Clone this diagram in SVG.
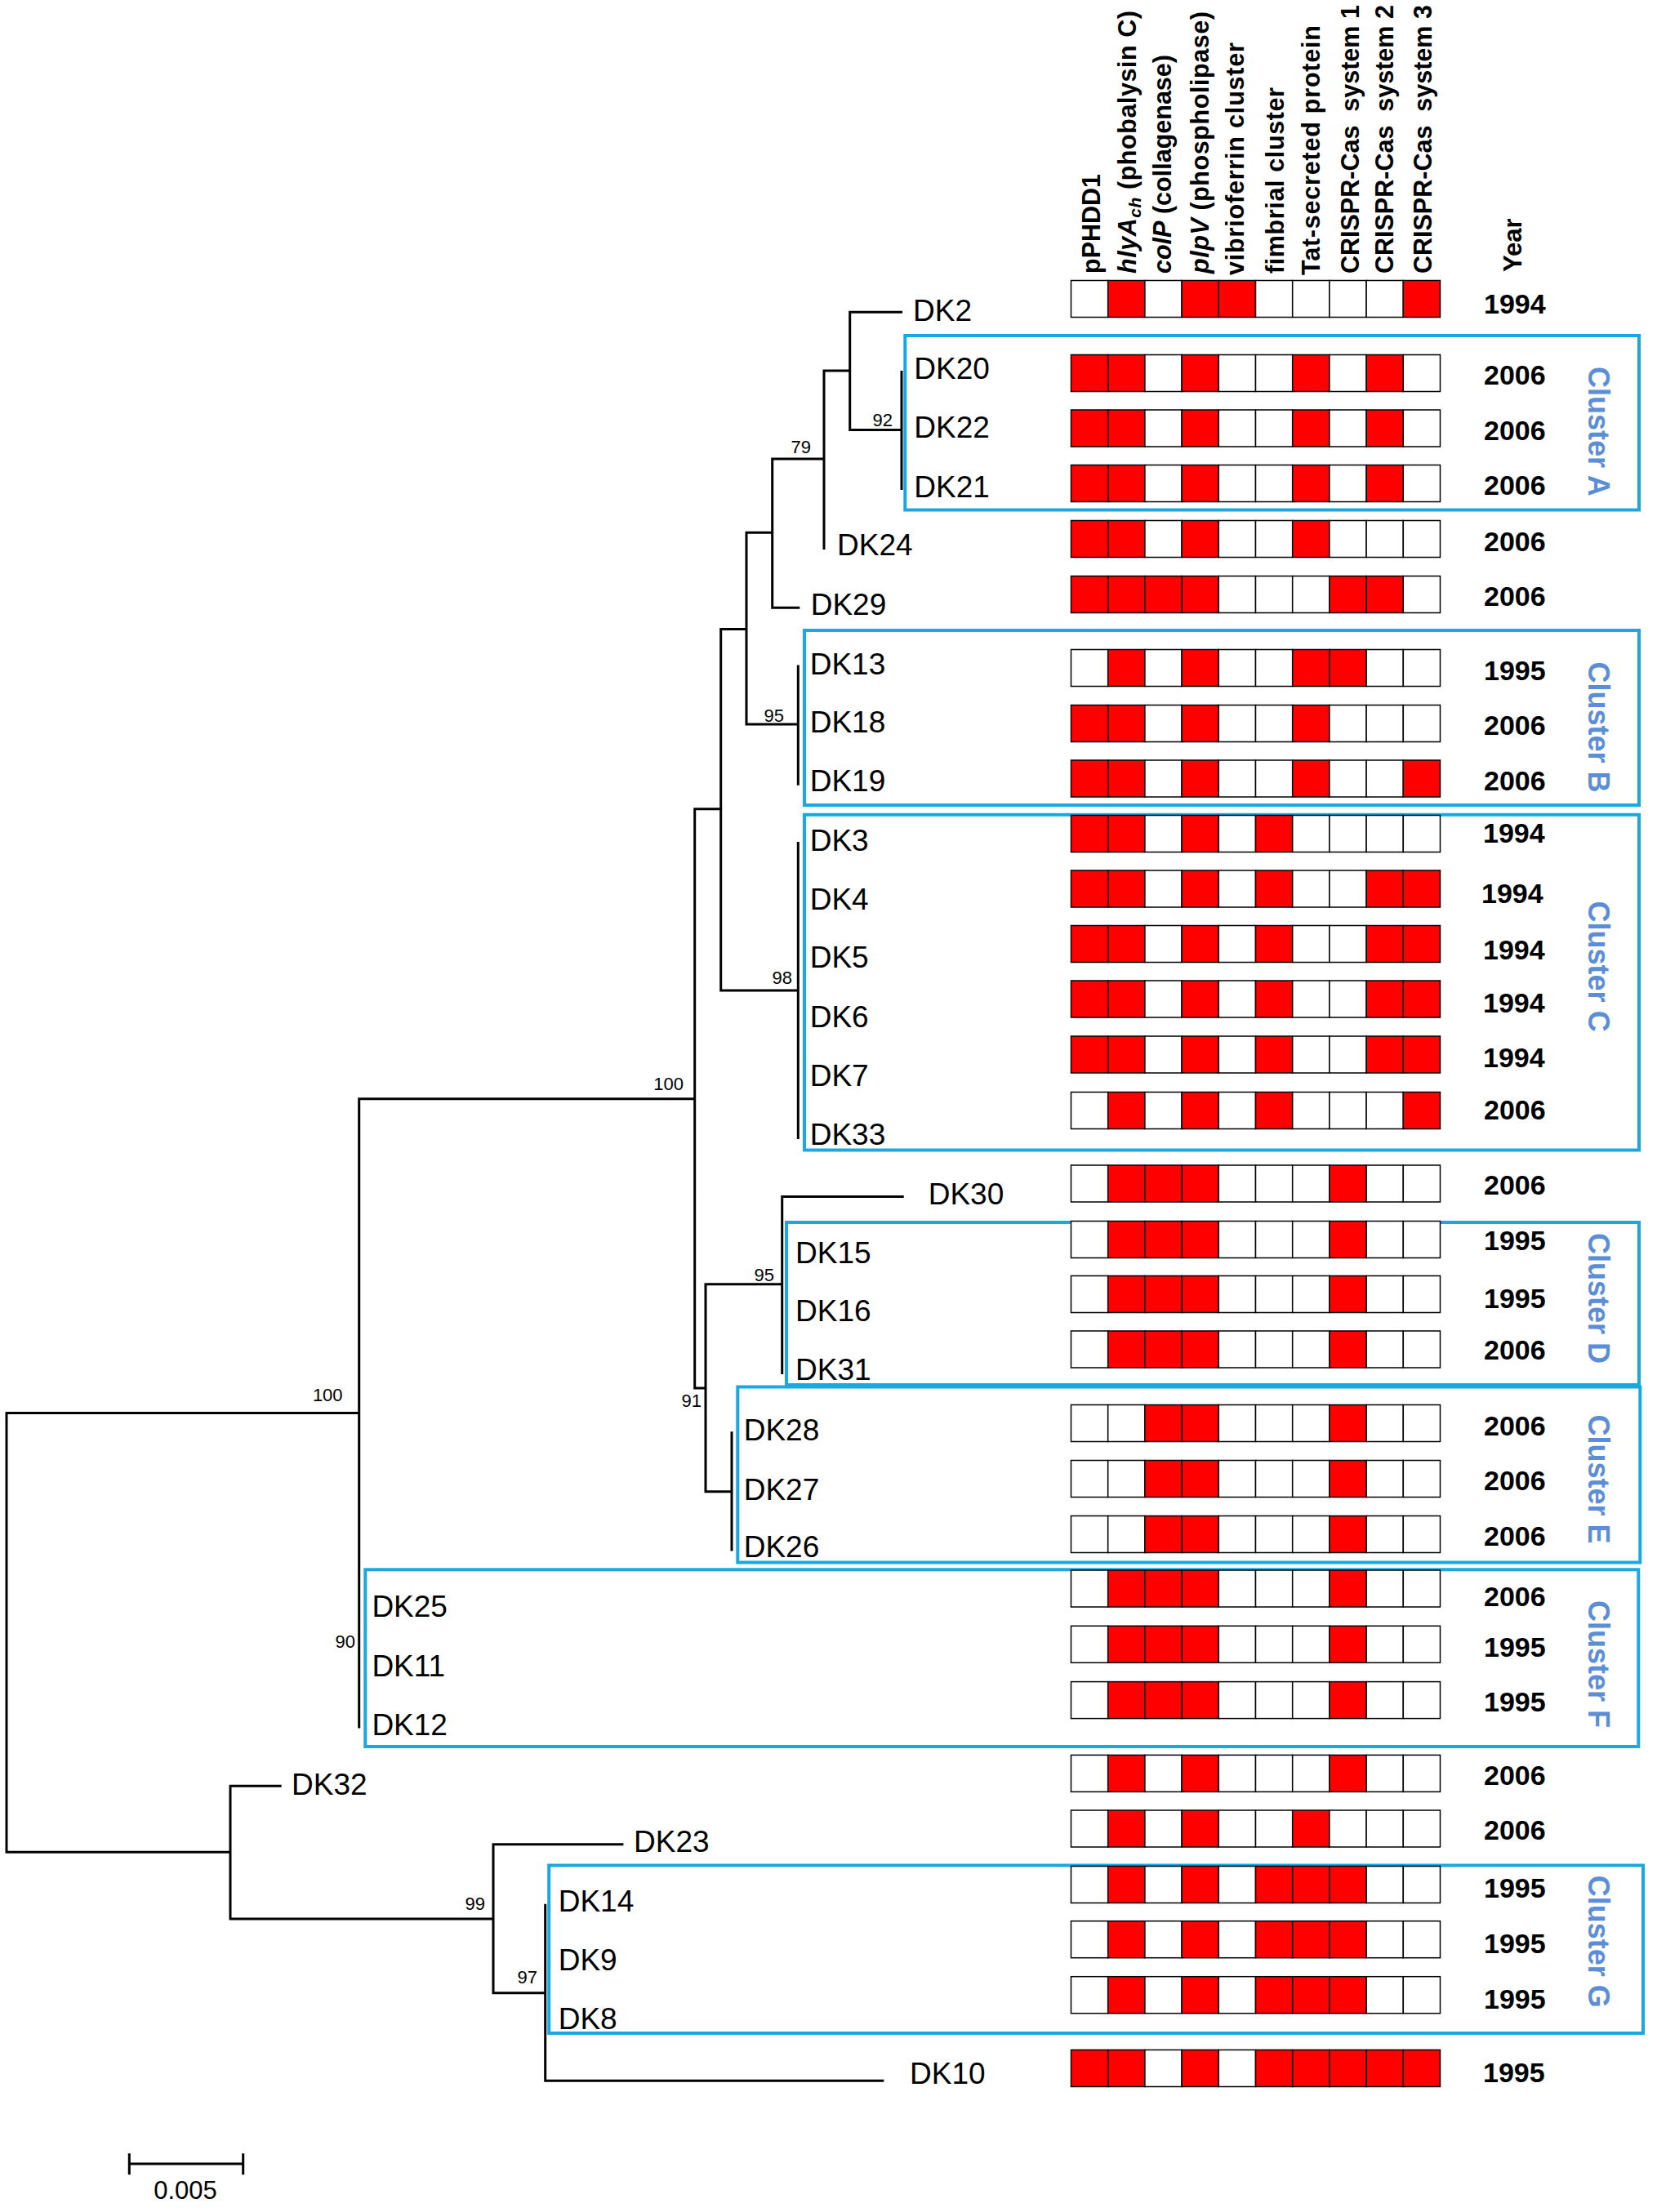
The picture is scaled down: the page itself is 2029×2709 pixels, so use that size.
<svg xmlns="http://www.w3.org/2000/svg" width="2029" height="2709" viewBox="0 0 2029 2709">
<style>
text{font-family:"Liberation Sans",Arial,sans-serif;fill:#000}
.w{fill:#fff;stroke:#000;stroke-width:1.5}
.r{fill:#f00;stroke:#000;stroke-width:1.5}
.lbl{font-size:37px}
.bs{font-size:22px;text-anchor:end}
.yr{font-size:34px;font-weight:bold}
.hd{font-size:30.5px;font-weight:bold}
.box{fill:none;stroke:#1AA8E0;stroke-width:4}
.cl{font-size:36px;font-weight:bold;fill:#5B8ED6}
.tree{fill:none;stroke:#000;stroke-width:3;stroke-linejoin:miter}
</style>
<defs>
<rect id="W" class="w" width="45.2" height="45"/>
<rect id="R" class="r" width="45.2" height="45"/>
<g id="pa"><use href="#W" x="0"/><use href="#R" x="45.2"/><use href="#W" x="90.4"/><use href="#R" x="135.6"/><use href="#R" x="180.8"/><use href="#W" x="226"/><use href="#W" x="271.2"/><use href="#W" x="316.4"/><use href="#W" x="361.6"/><use href="#R" x="406.8"/></g>
<g id="pb"><use href="#R" x="0"/><use href="#R" x="45.2"/><use href="#W" x="90.4"/><use href="#R" x="135.6"/><use href="#W" x="180.8"/><use href="#W" x="226"/><use href="#R" x="271.2"/><use href="#W" x="316.4"/><use href="#R" x="361.6"/><use href="#W" x="406.8"/></g>
<g id="pc"><use href="#R" x="0"/><use href="#R" x="45.2"/><use href="#W" x="90.4"/><use href="#R" x="135.6"/><use href="#W" x="180.8"/><use href="#W" x="226"/><use href="#R" x="271.2"/><use href="#W" x="316.4"/><use href="#W" x="361.6"/><use href="#W" x="406.8"/></g>
<g id="pd"><use href="#R" x="0"/><use href="#R" x="45.2"/><use href="#R" x="90.4"/><use href="#R" x="135.6"/><use href="#W" x="180.8"/><use href="#W" x="226"/><use href="#W" x="271.2"/><use href="#R" x="316.4"/><use href="#R" x="361.6"/><use href="#W" x="406.8"/></g>
<g id="pe"><use href="#W" x="0"/><use href="#R" x="45.2"/><use href="#W" x="90.4"/><use href="#R" x="135.6"/><use href="#W" x="180.8"/><use href="#W" x="226"/><use href="#R" x="271.2"/><use href="#R" x="316.4"/><use href="#W" x="361.6"/><use href="#W" x="406.8"/></g>
<g id="pf"><use href="#R" x="0"/><use href="#R" x="45.2"/><use href="#W" x="90.4"/><use href="#R" x="135.6"/><use href="#W" x="180.8"/><use href="#W" x="226"/><use href="#R" x="271.2"/><use href="#W" x="316.4"/><use href="#W" x="361.6"/><use href="#R" x="406.8"/></g>
<g id="pg"><use href="#R" x="0"/><use href="#R" x="45.2"/><use href="#W" x="90.4"/><use href="#R" x="135.6"/><use href="#W" x="180.8"/><use href="#R" x="226"/><use href="#W" x="271.2"/><use href="#W" x="316.4"/><use href="#W" x="361.6"/><use href="#W" x="406.8"/></g>
<g id="ph"><use href="#R" x="0"/><use href="#R" x="45.2"/><use href="#W" x="90.4"/><use href="#R" x="135.6"/><use href="#W" x="180.8"/><use href="#R" x="226"/><use href="#W" x="271.2"/><use href="#W" x="316.4"/><use href="#R" x="361.6"/><use href="#R" x="406.8"/></g>
<g id="pi"><use href="#W" x="0"/><use href="#R" x="45.2"/><use href="#W" x="90.4"/><use href="#R" x="135.6"/><use href="#W" x="180.8"/><use href="#R" x="226"/><use href="#W" x="271.2"/><use href="#W" x="316.4"/><use href="#W" x="361.6"/><use href="#R" x="406.8"/></g>
<g id="pj"><use href="#W" x="0"/><use href="#R" x="45.2"/><use href="#R" x="90.4"/><use href="#R" x="135.6"/><use href="#W" x="180.8"/><use href="#W" x="226"/><use href="#W" x="271.2"/><use href="#R" x="316.4"/><use href="#W" x="361.6"/><use href="#W" x="406.8"/></g>
<g id="pk"><use href="#W" x="0"/><use href="#W" x="45.2"/><use href="#R" x="90.4"/><use href="#R" x="135.6"/><use href="#W" x="180.8"/><use href="#W" x="226"/><use href="#W" x="271.2"/><use href="#R" x="316.4"/><use href="#W" x="361.6"/><use href="#W" x="406.8"/></g>
<g id="pl"><use href="#W" x="0"/><use href="#R" x="45.2"/><use href="#W" x="90.4"/><use href="#R" x="135.6"/><use href="#W" x="180.8"/><use href="#W" x="226"/><use href="#W" x="271.2"/><use href="#R" x="316.4"/><use href="#W" x="361.6"/><use href="#W" x="406.8"/></g>
<g id="pm"><use href="#W" x="0"/><use href="#R" x="45.2"/><use href="#W" x="90.4"/><use href="#R" x="135.6"/><use href="#W" x="180.8"/><use href="#W" x="226"/><use href="#R" x="271.2"/><use href="#W" x="316.4"/><use href="#W" x="361.6"/><use href="#W" x="406.8"/></g>
<g id="pn"><use href="#W" x="0"/><use href="#R" x="45.2"/><use href="#W" x="90.4"/><use href="#R" x="135.6"/><use href="#W" x="180.8"/><use href="#R" x="226"/><use href="#R" x="271.2"/><use href="#R" x="316.4"/><use href="#W" x="361.6"/><use href="#W" x="406.8"/></g>
<g id="po"><use href="#R" x="0"/><use href="#R" x="45.2"/><use href="#W" x="90.4"/><use href="#R" x="135.6"/><use href="#W" x="180.8"/><use href="#R" x="226"/><use href="#R" x="271.2"/><use href="#R" x="316.4"/><use href="#R" x="361.6"/><use href="#R" x="406.8"/></g>
</defs>
<rect width="2029" height="2709" fill="#fff"/>

<g id="headers">
<text class="hd" transform="translate(1347,335) rotate(-90)">pPHDD1</text>
<text class="hd" transform="translate(1391,335) rotate(-90)" textLength="322"><tspan font-style="italic">hlyA</tspan><tspan font-style="italic" font-size="21" dy="6">ch</tspan><tspan dy="-6"> (phobalysin C)</tspan></text>
<text class="hd" transform="translate(1434,335) rotate(-90)" textLength="268"><tspan font-style="italic">colP</tspan> (collagenase)</text>
<text class="hd" transform="translate(1480,335) rotate(-90)" textLength="321"><tspan font-style="italic">plpV</tspan> (phospholipase)</text>
<text class="hd" transform="translate(1523,337) rotate(-90)" textLength="285">vibrioferrin cluster</text>
<text class="hd" transform="translate(1572,335) rotate(-90)" textLength="228">fimbrial cluster</text>
<text class="hd" transform="translate(1616,337) rotate(-90)" textLength="306">Tat-secreted protein</text>
<text class="hd" transform="translate(1664,335) rotate(-90)" xml:space="preserve">CRISPR-Cas  system 1</text>
<text class="hd" transform="translate(1706,335) rotate(-90)" xml:space="preserve">CRISPR-Cas  system 2</text>
<text class="hd" transform="translate(1753,335) rotate(-90)" xml:space="preserve">CRISPR-Cas  system 3</text>
<text class="hd" style="font-size:31px" transform="translate(1863,333) rotate(-90)">Year</text>
</g>

<g id="clusters">
<g id="cluster-A"><rect class="box" x="1108.3" y="411" width="898.7" height="213.5"/><text class="cl" transform="translate(1945,449) rotate(90)">Cluster A</text></g>
<g id="cluster-B"><rect class="box" x="985" y="772" width="1022" height="214"/><text class="cl" transform="translate(1945,810.5) rotate(90)">Cluster B</text></g>
<g id="cluster-C"><rect class="box" x="985" y="997.8" width="1022" height="410.7"/><text class="cl" transform="translate(1945,1103.6) rotate(90)">Cluster C</text></g>
<g id="cluster-D"><rect class="box" x="963" y="1497" width="1044" height="199"/><text class="cl" transform="translate(1945,1510) rotate(90)">Cluster D</text></g>
<g id="cluster-E"><rect class="box" x="903.3" y="1698.5" width="1105" height="215"/><text class="cl" transform="translate(1945,1732.4) rotate(90)">Cluster E</text></g>
<g id="cluster-F"><rect class="box" x="447.3" y="1922.3" width="1559" height="216.7"/><text class="cl" transform="translate(1945,1960) rotate(90)">Cluster F</text></g>
<g id="cluster-G"><rect class="box" x="672.2" y="2284.5" width="1339.8" height="205.5"/><text class="cl" transform="translate(1945,2296.7) rotate(90)">Cluster G</text></g>
</g>

<g id="taxa">
<g id="DK2"><text class="lbl" x="1118" y="392.5">DK2</text><use href="#pa" x="1311.5" y="343.5"/><text class="yr" x="1817" y="384.2">1994</text></g>
<g id="DK20"><text class="lbl" x="1119.3" y="464">DK20</text><use href="#pb" x="1311.5" y="434.5"/><text class="yr" x="1817" y="471">2006</text></g>
<g id="DK22"><text class="lbl" x="1119.3" y="536">DK22</text><use href="#pb" x="1311.5" y="502"/><text class="yr" x="1817" y="539">2006</text></g>
<g id="DK21"><text class="lbl" x="1119.3" y="609">DK21</text><use href="#pb" x="1311.5" y="569.5"/><text class="yr" x="1817" y="606">2006</text></g>
<g id="DK24"><text class="lbl" x="1025" y="680.4">DK24</text><use href="#pc" x="1311.5" y="637.5"/><text class="yr" x="1817" y="674.7">2006</text></g>
<g id="DK29"><text class="lbl" x="992.7" y="753">DK29</text><use href="#pd" x="1311.5" y="705.5"/><text class="yr" x="1817" y="742">2006</text></g>
<g id="DK13"><text class="lbl" x="991.7" y="825.5">DK13</text><use href="#pe" x="1311.5" y="795.5"/><text class="yr" x="1817" y="833">1995</text></g>
<g id="DK18"><text class="lbl" x="991.7" y="897">DK18</text><use href="#pc" x="1311.5" y="863.5"/><text class="yr" x="1817" y="900">2006</text></g>
<g id="DK19"><text class="lbl" x="991.7" y="969.3">DK19</text><use href="#pf" x="1311.5" y="931"/><text class="yr" x="1817" y="967.5">2006</text></g>
<g id="DK3"><text class="lbl" x="991.7" y="1042.4">DK3</text><use href="#pg" x="1311.5" y="998.5"/><text class="yr" x="1816" y="1032">1994</text></g>
<g id="DK4"><text class="lbl" x="991.7" y="1113.8">DK4</text><use href="#ph" x="1311.5" y="1066"/><text class="yr" x="1814" y="1105.8">1994</text></g>
<g id="DK5"><text class="lbl" x="991.7" y="1185">DK5</text><use href="#ph" x="1311.5" y="1133.5"/><text class="yr" x="1816" y="1175">1994</text></g>
<g id="DK6"><text class="lbl" x="991.7" y="1258">DK6</text><use href="#ph" x="1311.5" y="1201"/><text class="yr" x="1816" y="1240">1994</text></g>
<g id="DK7"><text class="lbl" x="991.7" y="1330">DK7</text><use href="#ph" x="1311.5" y="1269"/><text class="yr" x="1816" y="1307">1994</text></g>
<g id="DK33"><text class="lbl" x="991.7" y="1401.8">DK33</text><use href="#pi" x="1311.5" y="1337.5"/><text class="yr" x="1817" y="1370.5">2006</text></g>
<g id="DK30"><text class="lbl" x="1136.7" y="1475.4">DK30</text><use href="#pj" x="1311.5" y="1427"/><text class="yr" x="1817" y="1463">2006</text></g>
<g id="DK15"><text class="lbl" x="974" y="1547">DK15</text><use href="#pj" x="1311.5" y="1495.5"/><text class="yr" x="1817" y="1531">1995</text></g>
<g id="DK16"><text class="lbl" x="974" y="1618">DK16</text><use href="#pj" x="1311.5" y="1562.5"/><text class="yr" x="1817" y="1602">1995</text></g>
<g id="DK31"><text class="lbl" x="974" y="1689.7">DK31</text><use href="#pj" x="1311.5" y="1630"/><text class="yr" x="1817" y="1665">2006</text></g>
<g id="DK28"><text class="lbl" x="910.7" y="1764">DK28</text><use href="#pk" x="1311.5" y="1720.5"/><text class="yr" x="1817" y="1757.9">2006</text></g>
<g id="DK27"><text class="lbl" x="910.7" y="1836.8">DK27</text><use href="#pk" x="1311.5" y="1788.5"/><text class="yr" x="1817" y="1825.3">2006</text></g>
<g id="DK26"><text class="lbl" x="910.7" y="1907">DK26</text><use href="#pk" x="1311.5" y="1856.5"/><text class="yr" x="1817" y="1893">2006</text></g>
<g id="DK25"><text class="lbl" x="455.4" y="1980.4">DK25</text><use href="#pj" x="1311.5" y="1923"/><text class="yr" x="1817" y="1966.8">2006</text></g>
<g id="DK11"><text class="lbl" x="455.4" y="2053">DK11</text><use href="#pj" x="1311.5" y="1991.3"/><text class="yr" x="1817" y="2029.3">1995</text></g>
<g id="DK12"><text class="lbl" x="455.4" y="2125.4">DK12</text><use href="#pj" x="1311.5" y="2059.6"/><text class="yr" x="1817" y="2096.3">1995</text></g>
<g id="DK32"><text class="lbl" x="357" y="2198">DK32</text><use href="#pl" x="1311.5" y="2149.4"/><text class="yr" x="1817" y="2185.5">2006</text></g>
<g id="DK23"><text class="lbl" x="776" y="2268.3">DK23</text><use href="#pm" x="1311.5" y="2217"/><text class="yr" x="1817" y="2253.4">2006</text></g>
<g id="DK14"><text class="lbl" x="683.7" y="2341">DK14</text><use href="#pn" x="1311.5" y="2285.5"/><text class="yr" x="1817" y="2324">1995</text></g>
<g id="DK9"><text class="lbl" x="683.7" y="2412.7">DK9</text><use href="#pn" x="1311.5" y="2352.7"/><text class="yr" x="1817" y="2391.7">1995</text></g>
<g id="DK8"><text class="lbl" x="683.7" y="2485">DK8</text><use href="#pn" x="1311.5" y="2420.7"/><text class="yr" x="1817" y="2460">1995</text></g>
<g id="DK10"><text class="lbl" x="1114" y="2552.3">DK10</text><use href="#po" x="1311.5" y="2510.5"/><text class="yr" x="1816" y="2550">1995</text></g>
</g>

<g id="connectors">
<path class="tree" d="M439.7,1730.4 H8 V2268.3 H282
M850.7,1345.7 H439.7 V2116.5
M882.7,990.7 H850.7 V1700 H864
M914,770.6 H882.7 V1213 H977.3
M977.3,1031 V1395
M945.7,652.3 H914 V887.1 H977.3
M977.3,814.4 V961.7
M1009,562 H945.7 V744.3 H979.3
M1040.7,454.1 H1009 V672.9
M1105,382.2 H1040.7 V526.4 H1104
M1104,454 V600
M957.7,1572.8 H864 V1826.8 H896
M1106.7,1465.6 H957.7 V1683
M896,1753.3 V1899.5
M344.6,2187.3 H282 V2350 H604
M763.4,2258.7 H604 V2440.7 H667.7
M667.7,2331.7 V2548.3 H1082.3"/>
</g>

<g id="support">
<text class="bs" x="1093" y="522">92</text>
<text class="bs" x="993" y="555.4">79</text>
<text class="bs" x="960" y="883.6">95</text>
<text class="bs" x="970" y="1204.5">98</text>
<text class="bs" x="837" y="1335">100</text>
<text class="bs" x="948" y="1569">95</text>
<text class="bs" x="859" y="1723">91</text>
<text class="bs" x="419.6" y="1716">100</text>
<text class="bs" x="435" y="2018">90</text>
<text class="bs" x="594" y="2339">99</text>
<text class="bs" x="658" y="2429.3">97</text>
</g>

<g id="scale-bar">
<path class="tree" d="M158.3,2650 H297.7 M158.3,2637.3 V2663.3 M297.7,2637.3 V2663.3"/>
<text x="227" y="2693" font-size="31" text-anchor="middle">0.005</text>
</g>
</svg>
